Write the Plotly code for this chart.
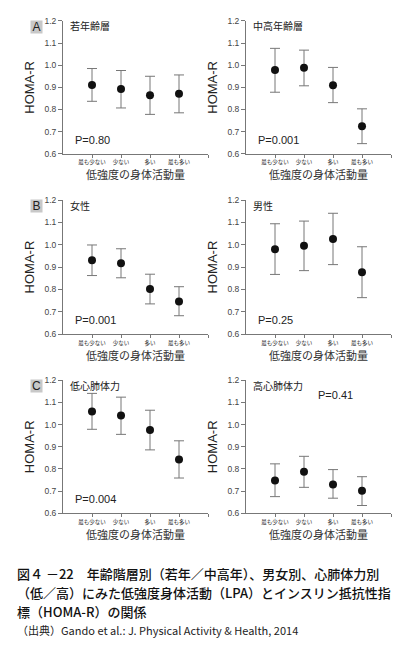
import plotly.graph_objects as go

categories = ["最も少ない", "少ない", "多い", "最も多い"]
x_pos = [1, 2, 3, 4]

panel_titles = ["若年齢層", "中高年齢層", "女性", "男性", "低心肺体力", "高心肺体力"]
p_values = ["P=0.80", "P=0.001", "P=0.001", "P=0.25", "P=0.004", "P=0.41"]

young_mean = [0.911, 0.893, 0.864, 0.871]
young_upper = [0.985, 0.976, 0.950, 0.956]
young_lower = [0.837, 0.807, 0.778, 0.785]

older_mean = [0.978, 0.988, 0.910, 0.724]
older_upper = [1.076, 1.068, 0.990, 0.803]
older_lower = [0.878, 0.907, 0.831, 0.646]

female_mean = [0.930, 0.917, 0.802, 0.746]
female_upper = [0.999, 0.982, 0.868, 0.812]
female_lower = [0.862, 0.852, 0.735, 0.682]

male_mean = [0.980, 0.995, 1.026, 0.877]
male_upper = [1.094, 1.106, 1.141, 0.991]
male_lower = [0.867, 0.884, 0.911, 0.763]

lowfit_mean = [1.059, 1.041, 0.976, 0.843]
lowfit_upper = [1.141, 1.124, 1.065, 0.927]
lowfit_lower = [0.979, 0.956, 0.886, 0.759]

highfit_mean = [0.748, 0.787, 0.730, 0.701]
highfit_upper = [0.823, 0.857, 0.797, 0.765]
highfit_lower = [0.675, 0.717, 0.668, 0.635]

y_ticks = [0.6, 0.7, 0.8, 0.9, 1.0, 1.1, 1.2]

series = [
    (young_mean, young_upper, young_lower),
    (older_mean, older_upper, older_lower),
    (female_mean, female_upper, female_lower),
    (male_mean, male_upper, male_lower),
    (lowfit_mean, lowfit_upper, lowfit_lower),
    (highfit_mean, highfit_upper, highfit_lower),
]

W, H = 400, 656
FONT = "Noto Sans CJK JP"

# pixel layout of plot areas
x_px = [(55, 200), (238, 383)]
y_px = [(8, 143), (190, 326), (373, 508)]

fig = go.Figure()
layout = dict(
    width=W, height=H, margin=dict(l=0, r=0, t=0, b=0),
    paper_bgcolor="white", plot_bgcolor="white", showlegend=False,
    font=dict(family=FONT, color="#333"),
)
annotations = []

for i, (m, up, lo) in enumerate(series):
    row, col = divmod(i, 2)
    n = i + 1
    xa = "x" if n == 1 else f"x{n}"
    ya = "y" if n == 1 else f"y{n}"
    xk = "xaxis" if n == 1 else f"xaxis{n}"
    yk = "yaxis" if n == 1 else f"yaxis{n}"
    x0, x1 = x_px[col]
    yt, yb = y_px[row]
    layout[xk] = dict(
        domain=[x0 / W, x1 / W], anchor=ya, range=[0, 5],
        tickvals=x_pos + [5], ticktext=categories + [""],
        ticks="outside", ticklen=3, tickcolor="#777", tickwidth=1,
        showline=True, linecolor="#777", linewidth=1, showgrid=False, zeroline=False,
        tickfont=dict(size=5.5, color="#222", family=FONT),
        title=dict(text="低強度の身体活動量", font=dict(size=11, color="#333", family=FONT), standoff=1),
    )
    layout[yk] = dict(
        domain=[1 - yb / H, 1 - yt / H], anchor=xa, range=[0.6, 1.2],
        tickvals=y_ticks, ticktext=[f"{v:.1f}" for v in y_ticks],
        ticks="outside", ticklen=4, tickcolor="#777", tickwidth=1,
        showline=True, linecolor="#777", linewidth=1, showgrid=False, zeroline=False,
        tickfont=dict(size=8.5, color="#444", family="Liberation Sans"),
        title=dict(text="HOMA-R", font=dict(size=13, color="#222", family="Liberation Sans"), standoff=6),
    )
    fig.add_trace(go.Scatter(
        x=x_pos, y=m, mode="markers", xaxis=xa, yaxis=ya,
        marker=dict(size=8, color="#111"),
        error_y=dict(type="data", symmetric=False,
                     array=[u - v for u, v in zip(up, m)],
                     arrayminus=[v - l for v, l in zip(m, lo)],
                     color="#777", thickness=1, width=5),
    ))
    # panel subtitle
    annotations.append(dict(
        text=panel_titles[i], xref="paper", yref="paper",
        x=(x0 + 5) / W, y=1 - (yt + 5) / H, xanchor="left", yanchor="middle",
        showarrow=False, font=dict(size=10, color="#222", family=FONT),
    ))
    # p value
    if i == 5:
        px, py, anc = 327, yt + 15, "center"
    else:
        px, py, anc = x0 + 10, yb - 14, "left"
    annotations.append(dict(
        text=p_values[i], xref="paper", yref="paper",
        x=px / W, y=1 - py / H, xanchor=anc, yanchor="middle",
        showarrow=False, font=dict(size=11, color="#222", family="Liberation Sans"),
    ))

# panel letters
for letter, yt in zip(["A", "B", "C"], [y_px[0][0], y_px[1][0], y_px[2][0]]):
    annotations.append(dict(
        text=letter, xref="paper", yref="paper",
        x=28.5 / W, y=1 - (yt + 6) / H, xanchor="center", yanchor="middle",
        showarrow=False, bgcolor="#c8c8c8", width=11, height=12, borderpad=0,
        font=dict(size=12, color="#222", family="Liberation Sans"),
    ))

caption_lines = [
    "図４ －22　年齢階層別（若年／中高年）、男女別、心肺体力別",
    "（低／高）にみた低強度身体活動（LPA）とインスリン抵抗性指",
    "標（HOMA-R）の関係",
]
source_line = "（出典）Gando et al.: J. Physical Activity & Health, 2014"

for k, line in enumerate(caption_lines):
    annotations.append(dict(
        text=line, xref="paper", yref="paper",
        x=7 / W, y=1 - (569 + 19.5 * k) / H, xanchor="left", yanchor="middle",
        showarrow=False, font=dict(size=13, color="#111", family=FONT, weight=500),
    ))
annotations.append(dict(
    text=source_line, xref="paper", yref="paper",
    x=7 / W, y=1 - 627 / H, xanchor="left", yanchor="middle",
    showarrow=False, font=dict(size=11, color="#222", family=FONT),
))

layout["annotations"] = annotations
fig.update_layout(**layout)
fig.write_html("out.html")
